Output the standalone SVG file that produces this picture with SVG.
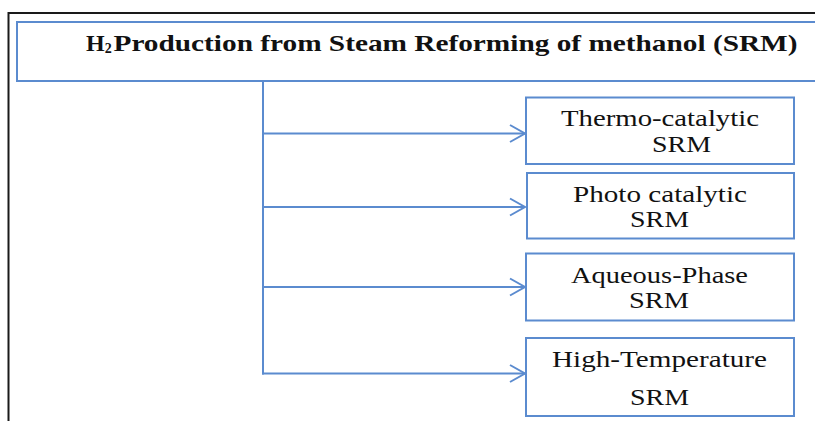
<svg xmlns="http://www.w3.org/2000/svg" width="815" height="421" viewBox="0 0 815 421">
  <style>
    .box { fill: #ffffff; stroke: #5B8BCF; stroke-width: 2; }
    .frame { fill: none; stroke: #1a1a1a; stroke-width: 2; }
    .link { fill: none; stroke: #5B8BCF; stroke-width: 2; }
    .label { font-family: "Liberation Serif", "Times New Roman", serif; font-size: 23px; fill: #111111; }
    .title { font-family: "Liberation Serif", "Times New Roman", serif; font-size: 24px; font-weight: bold; fill: #111111; }
    .sub { font-size: 14px; }
  </style>
  <defs>
    <marker id="chevron" markerUnits="userSpaceOnUse" markerWidth="20" markerHeight="20" refX="16" refY="10" orient="auto">
      <path d="M1,1.5 L16,10 L1,18.5" fill="none" stroke="#5B8BCF" stroke-width="2"/>
    </marker>
  </defs>

  <rect width="815" height="421" fill="#ffffff"/>
  <!-- outer page frame -->
  <rect class="frame" x="8.5" y="13" width="900" height="500"/>

  <!-- root node -->
  <g id="root">
    <rect class="box" x="17" y="22" width="820" height="59"/>
    <text class="title" x="86" y="51">H<tspan class="sub" dy="2">2</tspan></text>
    <text class="title" x="113.5" y="51" textLength="684" lengthAdjust="spacingAndGlyphs">Production from Steam Reforming of methanol (SRM)</text>
  </g>

  <!-- connectors -->
  <g id="connectors">
    <line class="link" x1="263" y1="81" x2="263" y2="374.5"/>
    <line class="link" x1="262" y1="133.5" x2="525" y2="133.5" marker-end="url(#chevron)"/>
    <line class="link" x1="262" y1="207" x2="525" y2="207" marker-end="url(#chevron)"/>
    <line class="link" x1="262" y1="287" x2="525" y2="287" marker-end="url(#chevron)"/>
    <line class="link" x1="262" y1="373.5" x2="525" y2="373.5" marker-end="url(#chevron)"/>
  </g>

  <g id="thermo-catalytic">
    <rect class="box" x="526" y="97.5" width="268" height="66.5"/>
    <text class="label" x="561" y="126" textLength="198" lengthAdjust="spacingAndGlyphs">Thermo-catalytic</text>
    <text class="label" x="652" y="152" textLength="59" lengthAdjust="spacingAndGlyphs">SRM</text>
  </g>

  <g id="photo-catalytic">
    <rect class="box" x="527" y="173" width="267" height="65.5"/>
    <text class="label" x="573" y="202" textLength="174" lengthAdjust="spacingAndGlyphs">Photo catalytic</text>
    <text class="label" x="630" y="227" textLength="59" lengthAdjust="spacingAndGlyphs">SRM</text>
  </g>

  <g id="aqueous-phase">
    <rect class="box" x="526" y="253.5" width="268" height="67"/>
    <text class="label" x="571" y="283" textLength="177" lengthAdjust="spacingAndGlyphs">Aqueous-Phase</text>
    <text class="label" x="629" y="308" textLength="60" lengthAdjust="spacingAndGlyphs">SRM</text>
  </g>

  <g id="high-temperature">
    <rect class="box" x="526" y="338" width="268" height="78"/>
    <text class="label" x="552" y="367" textLength="215" lengthAdjust="spacingAndGlyphs">High-Temperature</text>
    <text class="label" x="630" y="405" textLength="59" lengthAdjust="spacingAndGlyphs">SRM</text>
  </g>
</svg>
